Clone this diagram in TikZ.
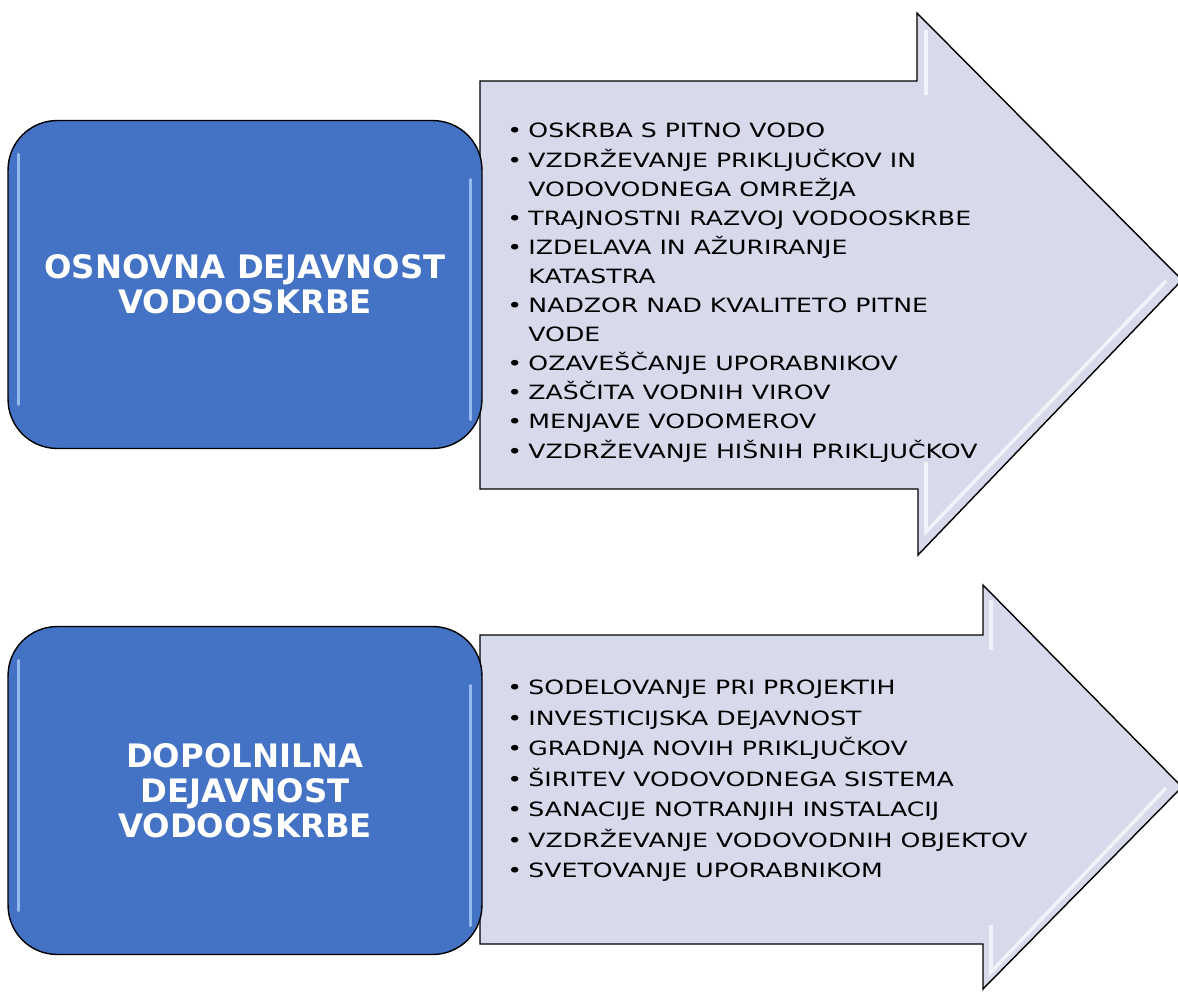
\documentclass[tikz,border=0pt]{standalone}
\usepackage{fontspec}
\setmainfont{DejaVu Sans}
\newfontfamily\listfont[FakeStretch=1.28]{DejaVu Sans}

\definecolor{boxblue}{RGB}{68,114,196}
\definecolor{boxshine}{RGB}{170,205,245}
\definecolor{arrowfill}{RGB}{214,218,235}

\tikzset{
	headbox/.style={draw=black, line width=0.8pt, fill=boxblue, rounded corners=28pt,
		minimum width=9.48cm, minimum height=6.56cm, text=white, align=center,
		font=\bfseries\fontsize{18.4}{19.9}\selectfont},
	arrowbody/.style={draw=black, line width=0.8pt, fill=arrowfill, line join=miter},
	gloss/.style={draw=white, line width=2pt, opacity=0.7},
	boxgloss/.style={draw=boxshine, line width=2pt, opacity=0.8, line cap=round},
	itemlist/.style={anchor=north west, inner sep=0pt, align=left, text=black},
}
\newcommand{\itm}[1]{\makebox[12pt][l]{\textbullet}#1}
\newcommand{\cnt}[1]{\hspace*{12pt}#1}

\begin{document}
\begin{tikzpicture}[x=0.02cm, y=-0.02cm]
	\useasboundingbox (0,0) rectangle (1178,992);

	% upper arrow
	\draw[arrowbody] (480,81) -- (917,81) -- (917,13) -- (1182,280) -- (918,555) -- (918,489) -- (480,489) -- cycle;
	\draw[gloss] (926,30) -- (926,95);
	\draw[gloss] (926,462) -- (926,532) -- (1166,281);
	\node[itemlist, font=\listfont\fontsize{11.2}{16.56}\selectfont] (osnovnalist) at (507,123) {%
		\itm{OSKRBA S PITNO VODO}\\
		\itm{VZDRŽEVANJE PRIKLJUČKOV IN}\\
		\cnt{VODOVODNEGA OMREŽJA}\\
		\itm{TRAJNOSTNI RAZVOJ VODOOSKRBE}\\
		\itm{IZDELAVA IN AŽURIRANJE}\\
		\cnt{KATASTRA}\\
		\itm{NADZOR NAD KVALITETO PITNE}\\
		\cnt{VODE}\\
		\itm{OZAVEŠČANJE UPORABNIKOV}\\
		\itm{ZAŠČITA VODNIH VIROV}\\
		\itm{MENJAVE VODOMEROV}\\
		\itm{VZDRŽEVANJE HIŠNIH PRIKLJUČKOV}};

	% lower arrow
	\draw[arrowbody] (480,635) -- (983,635) -- (983,585) -- (1182,787) -- (983,989) -- (983,944) -- (480,944) -- cycle;
	\draw[gloss] (991,600) -- (991,650);
	\draw[gloss] (991,925) -- (991,972) -- (1166,788);
	\node[itemlist, font=\listfont\fontsize{11.2}{17.36}\selectfont] (dopolnilnalist) at (507,680) {%
		\itm{SODELOVANJE PRI PROJEKTIH}\\
		\itm{INVESTICIJSKA DEJAVNOST}\\
		\itm{GRADNJA NOVIH PRIKLJUČKOV}\\
		\itm{ŠIRITEV VODOVODNEGA SISTEMA}\\
		\itm{SANACIJE NOTRANJIH INSTALACIJ}\\
		\itm{VZDRŽEVANJE VODOVODNIH OBJEKTOV}\\
		\itm{SVETOVANJE UPORABNIKOM}};

	% blue boxes
	\node[headbox] (osnovna) at (245,284.5) {OSNOVNA DEJAVNOST\\VODOOSKRBE};
	\draw[boxgloss] (osnovna.west) ++(11,120) -- ++(0,-250);
	\draw[boxgloss] (osnovna.east) ++(-12,-105) -- ++(0,240);
	\node[headbox] (dopolnilna) at (245,790.5) {DOPOLNILNA\\DEJAVNOST\\VODOOSKRBE};
	\draw[boxgloss] (dopolnilna.west) ++(11,120) -- ++(0,-250);
	\draw[boxgloss] (dopolnilna.east) ++(-12,-105) -- ++(0,240);
\end{tikzpicture}
\end{document}
